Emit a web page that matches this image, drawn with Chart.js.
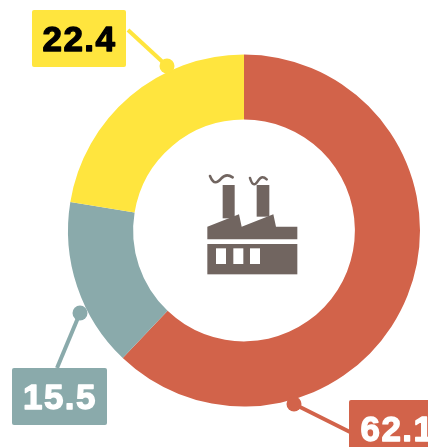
<!DOCTYPE html>
<html>
<head>
<meta charset="utf-8">
<style>
html,body{margin:0;padding:0;background:#fff;overflow:hidden}
#wrap{position:relative;width:428px;height:447px}
</style>
<script src="https://cdn.jsdelivr.net/npm/chart.js@4/dist/chart.umd.min.js"></script>
</head>
<body>
<div id="wrap"><canvas id="c" width="428" height="447"></canvas></div>
<script>
const categories = ["Red", "Teal", "Yellow"];
const values = [62.1, 15.5, 22.4];
const labelTexts = ["62.1", "15.5", "22.4"];
const colors = ["#d2634a", "#8aaaab", "#ffe53e"];
const textColors = ["#ffffff", "#ffffff", "#000000"];

const callouts = [
  {box:[349,400,95,57], dot:[294,404], end:[350,432], textX:397.5, textY:431},
  {box:[12,368,95,57],  dot:[80,313],  end:[57,368],  textX:60,    textY:399},
  {box:[32,10,94,57],   dot:[167,66],  end:[128,30],  textX:79.5,  textY:41}
];

function drawIcon(ctx){
  const X = x => 190 + x/3, Y = y => 160 + y/3;
  const brown = "#716560";
  ctx.save();
  ctx.fillStyle = brown;
  ctx.fillRect(X(98),Y(75),(134-98)/3,(175-75)/3);
  ctx.fillRect(X(200),Y(75),(238-200)/3,(170-75)/3);
  const roof = [[52,200],[147,163],[155,200],[250,163],[258,200],[322,200],[322,238],[52,238]];
  ctx.beginPath();
  roof.forEach((p,i)=> i ? ctx.lineTo(X(p[0]),Y(p[1])) : ctx.moveTo(X(p[0]),Y(p[1])));
  ctx.closePath();
  ctx.fill();
  ctx.fillRect(X(52),Y(252),270/3,91/3);
  ctx.fillStyle = "#ffffff";
  [78,130,180].forEach(x => ctx.fillRect(X(x),Y(265),30/3,47/3));
  ctx.strokeStyle = brown;
  ctx.lineWidth = 2.6;
  ctx.lineCap = "round";
  [[60,48,128],[180,54,230]].forEach(s=>{
    const x0=s[0], y0=s[1], x1=s[2], w=(x1-x0)/3;
    ctx.beginPath();
    ctx.moveTo(X(x0),Y(y0));
    ctx.bezierCurveTo(X(x0+w*.5),Y(y0+28),X(x0+w),Y(y0+20),X(x0+w*1.5),Y(y0+7));
    ctx.bezierCurveTo(X(x0+w*2),Y(y0-6),X(x0+w*2.5),Y(y0-4),X(x1),Y(y0+4));
    ctx.stroke();
  });
  ctx.restore();
}

const calloutPlugin = {
  id:"callouts",
  afterDraw(chart){
    const ctx = chart.ctx;
    drawIcon(ctx);
    callouts.forEach((c,i)=>{
      ctx.save();
      ctx.fillStyle = colors[i];
      ctx.strokeStyle = colors[i];
      ctx.lineWidth = 4;
      ctx.beginPath();
      ctx.moveTo(c.dot[0],c.dot[1]);
      ctx.lineTo(c.end[0],c.end[1]);
      ctx.stroke();
      ctx.beginPath();
      ctx.arc(c.dot[0],c.dot[1],7.5,0,Math.PI*2);
      ctx.fill();
      ctx.beginPath();
      ctx.roundRect(c.box[0],c.box[1],c.box[2],c.box[3],2);
      ctx.fill();
      ctx.font = "bold 35px 'Liberation Sans', Arial, sans-serif";
      ctx.letterSpacing = "1.5px";
      ctx.textAlign = "center";
      ctx.textBaseline = "middle";
      ctx.fillStyle = textColors[i];
      ctx.strokeStyle = textColors[i];
      ctx.lineWidth = 1.3;
      ctx.lineJoin = "round";
      ctx.strokeText(labelTexts[i],c.textX,c.textY);
      ctx.fillText(labelTexts[i],c.textX,c.textY);
      ctx.restore();
    });
  }
};

new Chart(document.getElementById("c"),{
  type:"doughnut",
  data:{labels:categories,datasets:[{data:values,backgroundColor:colors,borderWidth:0,hoverOffset:0}]},
  options:{
    responsive:false,
    animation:false,
    cutout:"63%",
    layout:{padding:{left:68,right:8,top:54,bottom:40}},
    plugins:{legend:{display:false},tooltip:{enabled:false}}
  },
  plugins:[calloutPlugin]
});
</script>
</body>
</html>
